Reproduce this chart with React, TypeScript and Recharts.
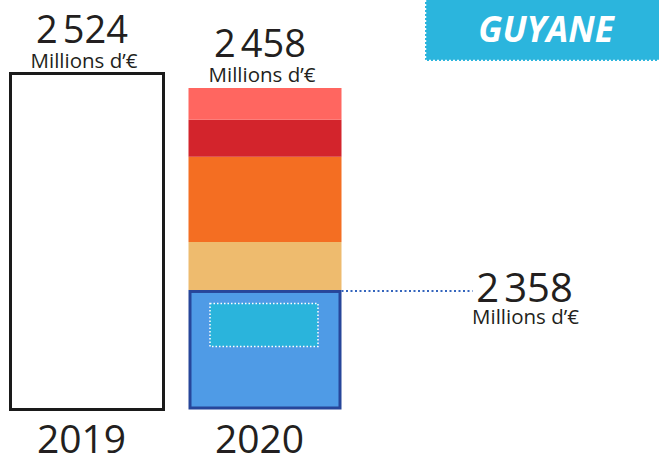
import React from 'react';
import { BarChart, Bar, XAxis, YAxis, LabelList, Customized } from 'recharts';

const years = ['2019', '2020'];
const totals = [2524, 2458];
const bar2019 = [2524, null];
// 2020 stack, bottom to top
const partBlue = [null, 898];
const partSand = [null, 361];
const partOrange = [null, 639];
const partRed = [null, 278];
const partPink = [null, 240];
const highlight = 2358;
const unit = 'Millions d\u2019€';

const data = years.map((year, i) => ({
  year,
  b2019: bar2019[i],
  blue: partBlue[i],
  sand: partSand[i],
  orange: partOrange[i],
  red: partRed[i],
  pink: partPink[i],
  label2019: i === 0 ? totals[i] : undefined,
  label2020: i === 1 ? totals[i] : undefined,
}));

const FONT = "'Open Sans', 'Noto Sans', sans-serif";
const INK = '#231f20';

const fmt = (v: number) => {
  const s = String(v);
  return s.length > 3 ? s.slice(0, -3) + '\u202F' + s.slice(-3) : s;
};

const TotalLabel = (props: any) => {
  const { x, y, width, value } = props;
  if (value == null || x == null) return null;
  const cx = Number(x) + Number(width) / 2;
  return (
    <g fontFamily={FONT} fill={INK} textAnchor="middle">
      <text x={cx - 5} y={Number(y) - 30.5} fontSize={38}>{fmt(value)}</text>
      <text x={cx - 3} y={Number(y) - 6} fontSize={20.5}>{unit}</text>
    </g>
  );
};

const HighlightLabel = (props: any) => {
  const { x, y, width, value } = props;
  if (value == null || x == null) return null;
  const right = Number(x) + Number(width);
  const top = Number(y);
  return (
    <g fontFamily={FONT} fill={INK} textAnchor="middle">
      <line x1={right} y1={top + 1} x2={right + 131} y2={top + 1}
        stroke="#3465bd" strokeWidth={2} strokeDasharray="2 2.5" />
      <text x={right + 183} y={top + 12} fontSize={40}>{fmt(highlight)}</text>
      <text x={right + 184} y={top + 34} fontSize={20.5}>{unit}</text>
    </g>
  );
};

const BlueShape = (props: any) => {
  const { x, y, width, height } = props;
  if (!height) return null;
  return (
    <g>
      <rect x={x + 1.5} y={y + 1.5} width={width - 3} height={height - 3}
        fill="#4f9be6" stroke="#27469a" strokeWidth={3} />
      <rect x={x + 21.5} y={y + 13.5} width={108} height={43}
        fill="#2ab4dc" stroke="#ffffff" strokeWidth={1.5} strokeDasharray="1.5 2" />
    </g>
  );
};

const YearTick = (props: any) => {
  const { x, payload } = props;
  return (
    <text x={x - 5} y={453} textAnchor="middle" fontFamily={FONT}
      fontSize={39} fill={INK}>{payload.value}</text>
  );
};

const Badge = () => (
  <g>
    <rect x={425} y={-4} width={240} height={65} fill="#2bb5dd" />
    <path d="M425.5 0 V60.5 H659" fill="none" stroke="#ffffff"
      strokeWidth={1.5} strokeDasharray="2 2" />
    <text x={546} y={42} textAnchor="middle" fontFamily={FONT} fontSize={35}
      fontWeight={700} fontStyle="italic" fill="#ffffff">GUYANE</text>
  </g>
);

export default function App() {
  return (
    <div style={{ position: 'absolute', left: 0, top: 0, background: '#fff' }}>
      <BarChart width={659} height={456} data={data}
        margin={{ top: 73.5, right: 305.5, bottom: 0, left: -2.5 }} barSize={153}>
        <XAxis dataKey="year" axisLine={false} tickLine={false} height={46.5}
          tick={<YearTick />} interval={0} />
        <YAxis hide domain={[0, totals[0]]} />
        <Bar dataKey="b2019" stackId="s" fill="#ffffff" stroke="#1a1a1a"
          strokeWidth={3} isAnimationActive={false}>
          <LabelList dataKey="label2019" content={<TotalLabel />} />
        </Bar>
        <Bar dataKey="blue" stackId="s" fill="#4f9be6" shape={<BlueShape />}
          isAnimationActive={false}>
          <LabelList dataKey="blue" content={<HighlightLabel />} />
        </Bar>
        <Bar dataKey="sand" stackId="s" fill="#eebb6e" isAnimationActive={false} />
        <Bar dataKey="orange" stackId="s" fill="#f46e22" isAnimationActive={false} />
        <Bar dataKey="red" stackId="s" fill="#d3242c" isAnimationActive={false} />
        <Bar dataKey="pink" stackId="s" fill="#ff6660" isAnimationActive={false}>
          <LabelList dataKey="label2020" content={<TotalLabel />} />
        </Bar>
        <Customized component={<Badge />} />
      </BarChart>
    </div>
  );
}
